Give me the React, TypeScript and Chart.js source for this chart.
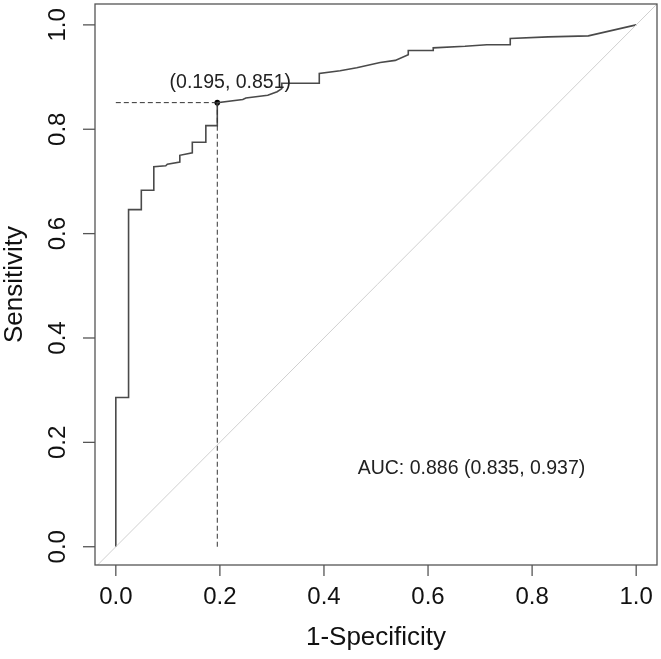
import React, { useEffect, useRef } from "react";
import { Chart, registerables } from "chart.js";

Chart.register(...registerables);

// ROC curve (1-Specificity, Sensitivity)
const fpr = [0, 0, 0.0245, 0.0245, 0.049, 0.049, 0.073, 0.073, 0.096, 0.099, 0.123, 0.123, 0.147, 0.147, 0.173, 0.173, 0.195, 0.195, 0.244, 0.25, 0.292, 0.31, 0.319, 0.319, 0.391, 0.391, 0.431, 0.463, 0.508, 0.537, 0.562, 0.562, 0.61, 0.61, 0.671, 0.713, 0.758, 0.758, 0.831, 0.908, 1.0];
const tpr = [0, 0.286, 0.286, 0.646, 0.646, 0.683, 0.683, 0.728, 0.73, 0.733, 0.737, 0.75, 0.755, 0.775, 0.775, 0.807, 0.807, 0.851, 0.857, 0.86, 0.865, 0.872, 0.878, 0.888, 0.888, 0.907, 0.912, 0.918, 0.928, 0.932, 0.943, 0.951, 0.951, 0.956, 0.959, 0.962, 0.962, 0.974, 0.977, 0.979, 1.0];

const threshold = { x: 0.195, y: 0.851 };
const thresholdLabel = "(0.195, 0.851)";
const aucLabel = "AUC: 0.886 (0.835, 0.937)";
const xTicks = [0, 0.2, 0.4, 0.6, 0.8, 1.0];
const yTicks = [0, 0.2, 0.4, 0.6, 0.8, 1.0];
const xTitle = "1-Specificity";
const yTitle = "Sensitivity";

const FONT = "'Liberation Sans', Arial, sans-serif";

export default function App() {
  const ref = useRef<HTMLCanvasElement | null>(null);

  useEffect(() => {
    const canvas = ref.current;
    if (!canvas) return;

    const overlay = {
      id: "rstyle",
      afterDraw(chart: any) {
        const { ctx, chartArea } = chart;
        const xs = chart.scales.x;
        const ys = chart.scales.y;
        ctx.save();
        // box
        ctx.strokeStyle = "#555";
        ctx.lineWidth = 1.3;
        ctx.strokeRect(chartArea.left, chartArea.top, chartArea.right - chartArea.left, chartArea.bottom - chartArea.top);
        // x ticks
        ctx.fillStyle = "#111";
        ctx.font = `24px ${FONT}`;
        ctx.textAlign = "center";
        ctx.textBaseline = "middle";
        xTicks.forEach((v) => {
          const px = xs.getPixelForValue(v);
          ctx.beginPath();
          ctx.moveTo(px, chartArea.bottom);
          ctx.lineTo(px, chartArea.bottom + 11);
          ctx.stroke();
          ctx.fillText(v.toFixed(1), px, 597);
        });
        // y ticks
        yTicks.forEach((v) => {
          const py = ys.getPixelForValue(v);
          ctx.beginPath();
          ctx.moveTo(chartArea.left, py);
          ctx.lineTo(chartArea.left - 12, py);
          ctx.stroke();
          ctx.save();
          ctx.translate(58, py);
          ctx.rotate(-Math.PI / 2);
          ctx.fillText(v.toFixed(1), 0, 0);
          ctx.restore();
        });
        // titles
        ctx.font = `26px ${FONT}`;
        ctx.fillText(xTitle, (chartArea.left + chartArea.right) / 2, 638);
        ctx.save();
        ctx.translate(15, (chartArea.top + chartArea.bottom) / 2);
        ctx.rotate(-Math.PI / 2);
        ctx.fillText(yTitle, 0, 0);
        ctx.restore();
        // annotations
        ctx.font = `19.5px ${FONT}`;
        ctx.fillStyle = "#222";
        ctx.fillText(thresholdLabel, xs.getPixelForValue(0.22), ys.getPixelForValue(0.889));
        ctx.fillText(aucLabel, xs.getPixelForValue(0.6835), ys.getPixelForValue(0.15));
        ctx.restore();
      },
    };

    const curve = fpr.map((x, i) => ({ x, y: tpr[i] }));

    const chart = new Chart(canvas, {
      type: "scatter",
      data: {
        datasets: [
          {
            data: [{ x: -0.05, y: -0.05 }, { x: 1.05, y: 1.05 }],
            showLine: true,
            borderColor: "#d0d0d0",
            borderWidth: 1,
            pointRadius: 0,
            clip: 0,
          } as any,
          {
            data: [{ x: 0, y: threshold.y }, { x: threshold.x, y: threshold.y }],
            showLine: true,
            borderColor: "#333",
            borderWidth: 1,
            borderDash: [5, 3],
            pointRadius: 0,
          },
          {
            data: [{ x: threshold.x, y: 0 }, { x: threshold.x, y: threshold.y }],
            showLine: true,
            borderColor: "#333",
            borderWidth: 1,
            borderDash: [5, 3],
            pointRadius: 0,
          },
          {
            data: curve,
            showLine: true,
            borderColor: "#4a4a4a",
            borderWidth: 1.6,
            pointRadius: 0,
            tension: 0,
          },
          {
            data: [threshold],
            showLine: false,
            pointRadius: 2.8,
            pointBackgroundColor: "#000",
            pointBorderColor: "#000",
            pointBorderWidth: 0,
          },
        ],
      },
      options: {
        responsive: false,
        animation: false,
        devicePixelRatio: 1,
        layout: { padding: { left: 95, right: 4, top: 2, bottom: 94 } },
        plugins: { legend: { display: false }, tooltip: { enabled: false } },
        events: [],
        scales: {
          x: { type: "linear", min: -0.04, max: 1.04, display: false },
          y: { type: "linear", min: -0.035, max: 1.04, display: false },
        },
      },
      plugins: [overlay],
    });

    return () => chart.destroy();
  }, []);

  return (
    <div style={{ position: "absolute", left: 0, top: 0, width: 661, height: 659, background: "#fff" }}>
      <canvas ref={ref} width={661} height={659} style={{ display: "block" }} />
    </div>
  );
}
